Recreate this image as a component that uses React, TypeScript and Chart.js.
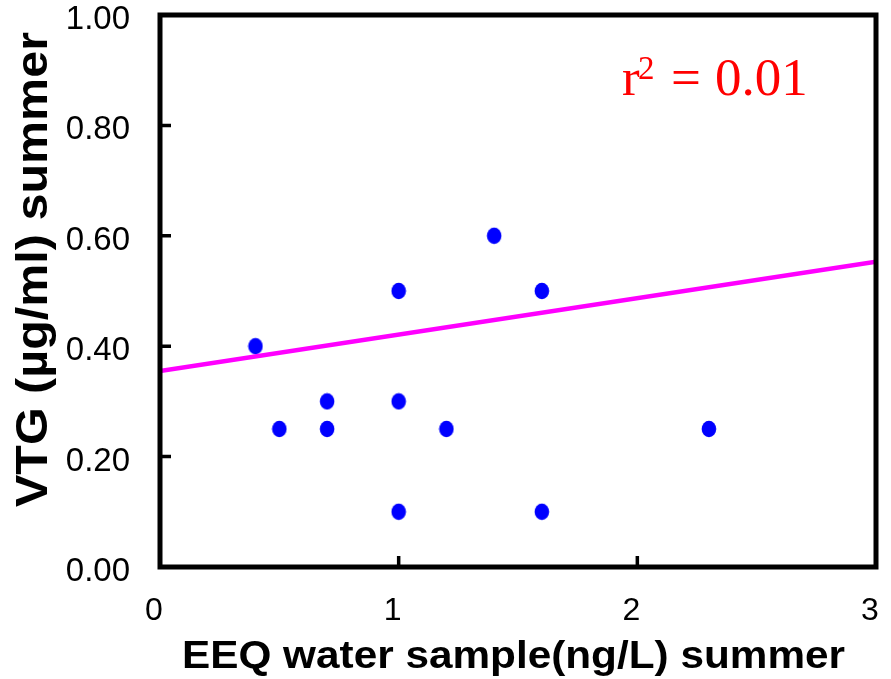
import React, { useEffect, useRef } from "react";
import { Chart, registerables } from "chart.js";

Chart.register(...registerables);

const eeqValues = [0.4, 0.5, 0.7, 0.7, 1.0, 1.0, 1.0, 1.2, 1.4, 1.6, 1.6, 2.3];
const vtgValues = [0.4, 0.25, 0.3, 0.25, 0.5, 0.3, 0.1, 0.25, 0.6, 0.5, 0.1, 0.25];
const fitX = [0, 3];
const fitY = [0.355, 0.553];
const yTicks = [0, 0.2, 0.4, 0.6, 0.8, 1.0];
const xTicks = [0, 1, 2, 3];
const xTitle = "EEQ water sample(ng/L) summer";
const yTitle = "VTG (µg/ml) summer";
const r2Text = "0.01";

const SANS = "'Liberation Sans', Arial, sans-serif";
const SERIF = "'Liberation Serif', 'Times New Roman', serif";

function makeEllipse(): HTMLCanvasElement {
  const c = document.createElement("canvas");
  c.width = 16;
  c.height = 18;
  const ctx = c.getContext("2d")!;
  ctx.fillStyle = "#0000ff";
  ctx.beginPath();
  ctx.ellipse(8, 9, 7.3, 8.3, 0, 0, Math.PI * 2);
  ctx.fill();
  return c;
}

const framePlugin = {
  id: "framePlugin",
  afterDraw(chart: any) {
    const { ctx, chartArea } = chart;
    const xs = chart.scales.x;
    const ys = chart.scales.y;
    const { left, right, top, bottom } = chartArea;
    ctx.save();
    ctx.strokeStyle = "#000";
    ctx.lineWidth = 5;
    ctx.lineJoin = "miter";
    ctx.strokeRect(left, top, right - left, bottom - top);
    ctx.lineWidth = 3.5;
    ctx.beginPath();
    yTicks.forEach((v) => {
      if (v === 0 || v === 1) return;
      const y = ys.getPixelForValue(v);
      ctx.moveTo(left, y);
      ctx.lineTo(left + 11, y);
    });
    xTicks.forEach((v) => {
      if (v === 0 || v === 3) return;
      const x = xs.getPixelForValue(v);
      ctx.moveTo(x, bottom);
      ctx.lineTo(x, bottom - 11);
    });
    ctx.stroke();

    ctx.fillStyle = "#000";
    ctx.font = `bold 38px ${SANS}`;
    ctx.textAlign = "left";
    ctx.textBaseline = "alphabetic";
    let w = ctx.measureText(xTitle).width;
    ctx.save();
    ctx.translate(182, 668);
    ctx.scale(663 / w, 1);
    ctx.fillText(xTitle, 0, 0);
    ctx.restore();

    ctx.font = `bold 44px ${SANS}`;
    w = ctx.measureText(yTitle).width;
    ctx.save();
    ctx.translate(47, 507);
    ctx.rotate(-Math.PI / 2);
    ctx.scale(475 / w, 1);
    ctx.fillText(yTitle, 0, 0);
    ctx.restore();

    ctx.fillStyle = "#ff0000";
    ctx.font = `53px ${SERIF}`;
    ctx.fillText("r", 622, 95);
    ctx.font = `33px ${SERIF}`;
    ctx.fillText("2", 638, 79);
    ctx.font = `53px ${SERIF}`;
    ctx.fillText("=", 671, 95);
    ctx.fillText(r2Text, 715, 95);
    ctx.restore();
  },
};

export default function App() {
  const ref = useRef<HTMLCanvasElement>(null);
  useEffect(() => {
    document.body.style.margin = "0";
    const dot = makeEllipse();
    const chart = new Chart(ref.current!, {
      type: "scatter",
      data: {
        datasets: [
          {
            type: "line",
            data: fitX.map((x, i) => ({ x, y: fitY[i] })),
            borderColor: "#ff00ff",
            borderWidth: 4.5,
            pointRadius: 0,
            fill: false,
          } as any,
          {
            type: "scatter",
            data: eeqValues.map((x, i) => ({ x, y: vtgValues[i] })),
            pointStyle: dot,
            pointRadius: 8,
            backgroundColor: "#0000ff",
            borderWidth: 0,
          } as any,
        ],
      },
      options: {
        responsive: false,
        animation: false,
        layout: { padding: { top: 15, right: 15, left: 0, bottom: 0 } },
        plugins: { legend: { display: false }, tooltip: { enabled: false } },
        scales: {
          x: {
            type: "linear",
            min: 0,
            max: 3,
            afterFit: (s: any) => {
              s.height = 112;
              s.paddingLeft = 0;
              s.paddingRight = 0;
            },
            afterBuildTicks: (s: any) => {
              s.ticks = xTicks.map((v) => ({ value: v }));
            },
            grid: { display: false, drawTicks: false },
            border: { display: false },
            ticks: {
              padding: 25,
              labelOffset: -6,
              color: "#000",
              font: { family: SANS, size: 32 },
              callback: (v: any) => String(v),
            },
          },
          y: {
            type: "linear",
            min: 0,
            max: 1,
            afterFit: (s: any) => {
              s.width = 160;
              s.paddingTop = 0;
              s.paddingBottom = 0;
            },
            afterBuildTicks: (s: any) => {
              s.ticks = yTicks.map((v) => ({ value: v }));
            },
            grid: { display: false, drawTicks: false },
            border: { display: false },
            ticks: {
              padding: 30,
              labelOffset: 5,
              color: "#000",
              font: { family: SANS, size: 33 },
              callback: (v: any) => Number(v).toFixed(2),
            },
          },
        },
      },
      plugins: [framePlugin],
    });
    return () => chart.destroy();
  }, []);
  return (
    <div style={{ position: "absolute", left: 0, top: 0, width: 891, height: 679 }}>
      <canvas ref={ref} width={891} height={679} style={{ display: "block" }} />
    </div>
  );
}
